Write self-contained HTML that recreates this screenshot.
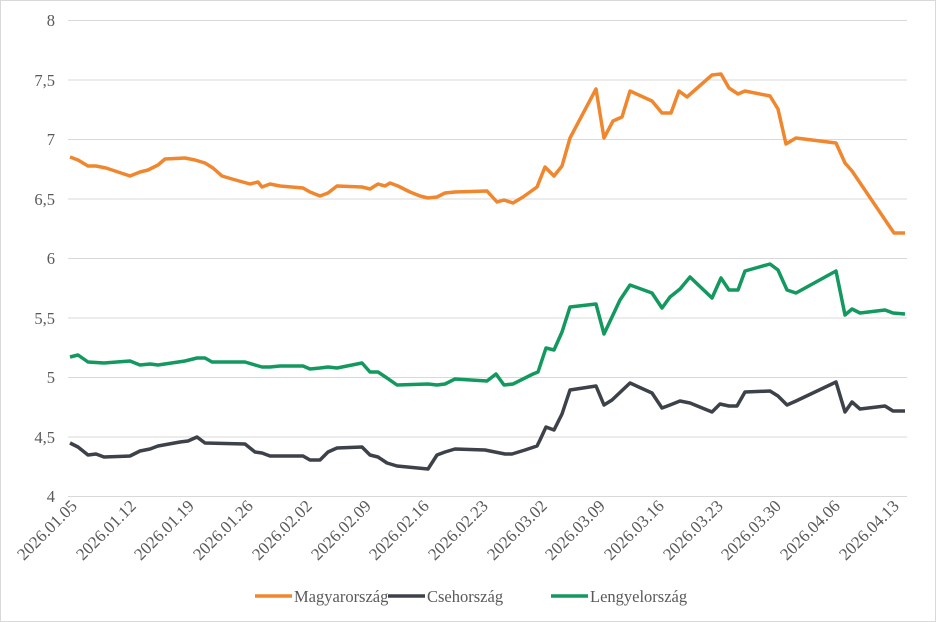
<!DOCTYPE html>
<html><head><meta charset="utf-8"><style>
html,body{margin:0;padding:0;background:#fff}
svg{display:block}
text{font-family:"Liberation Serif",serif;fill:#595959}
</style></head><body>
<svg width="936" height="622" viewBox="0 0 936 622" xmlns="http://www.w3.org/2000/svg">
<rect x="0.5" y="0.5" width="935" height="621" fill="#fff" stroke="#d9d9d9"/>
<g stroke="#d9d9d9" stroke-width="1">
<line x1="68" y1="20.5" x2="907" y2="20.5"/><line x1="68" y1="80" x2="907" y2="80"/>
<line x1="68" y1="139.5" x2="907" y2="139.5"/><line x1="68" y1="199" x2="907" y2="199"/>
<line x1="68" y1="258.5" x2="907" y2="258.5"/><line x1="68" y1="318" x2="907" y2="318"/>
<line x1="68" y1="377.5" x2="907" y2="377.5"/><line x1="68" y1="437" x2="907" y2="437"/>
<line x1="68" y1="496.5" x2="907" y2="496.5"/>
</g>
<g font-size="16.5" text-anchor="end">
<text x="55" y="26">8</text><text x="55" y="86">7,5</text><text x="55" y="145">7</text>
<text x="55" y="205">6,5</text><text x="55" y="264">6</text><text x="55" y="324">5,5</text>
<text x="55" y="383">5</text><text x="55" y="443">4,5</text><text x="55" y="502">4</text>
</g>
<g font-size="17" text-anchor="end">
<text transform="translate(78,507) rotate(-45)">2026.01.05</text>
<text transform="translate(137,507) rotate(-45)">2026.01.12</text>
<text transform="translate(195,507) rotate(-45)">2026.01.19</text>
<text transform="translate(254,507) rotate(-45)">2026.01.26</text>
<text transform="translate(313,507) rotate(-45)">2026.02.02</text>
<text transform="translate(372,507) rotate(-45)">2026.02.09</text>
<text transform="translate(430,507) rotate(-45)">2026.02.16</text>
<text transform="translate(489,507) rotate(-45)">2026.02.23</text>
<text transform="translate(548,507) rotate(-45)">2026.03.02</text>
<text transform="translate(606,507) rotate(-45)">2026.03.09</text>
<text transform="translate(665,507) rotate(-45)">2026.03.16</text>
<text transform="translate(724,507) rotate(-45)">2026.03.23</text>
<text transform="translate(782,507) rotate(-45)">2026.03.30</text>
<text transform="translate(841,507) rotate(-45)">2026.04.06</text>
<text transform="translate(900,507) rotate(-45)">2026.04.13</text>
</g>
<g fill="none" stroke-width="3.5" stroke-linejoin="round">
<polyline stroke="#f0872e" points="70,157 78,160 88,166 96,166 106,168 130,176 140,172 148,170 158,165 165,159 185,158 195,160 205,163 213,168 222,176 232,179 250,184 258,182 262,187 270,184 280,186 303,188 310,192 320,196 328,193 337,186 362,187 370,189 378,184 385,186 390,183 398,186 410,192 420,196 428,198 437,197 445,193 455,192 487,191 497,202 504,200 513,203 523,197 537,187 545,167 554,176 562,166 570,138 596,89 604,138 613,121 622,117 630,91 652,101 662,113 671,113 679,91 687,97 712,75 721,74 729,88 738,94 745,91 770,96 778,109 786,144 796,138 836,143 845,163 852,171 894,233 905,233"/>
<polyline stroke="#3d4149" points="70,443 78,447 88,455 96,454 104,457 130,456 140,451 150,449 158,446 180,442 188,441 197,437 205,443 245,444 255,452 262,453 270,456 303,456 310,460 320,460 328,452 337,448 362,447 370,455 378,457 387,463 397,466 428,469 437,455 445,452 455,449 485,450 495,452 505,454 512,454 525,450 537,446 540,440 546,427 554,430 562,414 570,390 596,386 604,405 612,400 630,383 652,393 662,408 670,405 680,401 690,403 712,412 720,404 729,406 737,406 745,392 770,391 778,396 787,405 796,401 836,382 845,412 852,402 860,409 885,406 893,411 905,411"/>
<polyline stroke="#13995f" points="70,357 78,355 88,362 104,363 130,361 140,365 150,364 158,365 185,361 197,358 205,358 212,362 245,362 255,365 262,367 270,367 280,366 303,366 310,369 320,368 328,367 337,368 362,363 370,372 378,372 387,378 397,385 428,384 437,385 445,384 455,379 487,381 496,374 504,385 513,384 533,374 538,372 546,348 554,350 562,332 570,307 596,304 604,334 620,300 630,285 652,293 662,308 670,297 680,289 690,277 712,298 721,278 729,290 738,290 745,271 770,264 778,270 787,290 796,293 836,271 845,315 852,309 860,313 885,310 893,313 905,314"/>
</g>
<g stroke-width="3.5">
<line x1="255" y1="596" x2="292" y2="596" stroke="#f0872e"/>
<line x1="388" y1="596" x2="425" y2="596" stroke="#3d4149"/>
<line x1="551" y1="596" x2="588" y2="596" stroke="#13995f"/>
</g>
<g font-size="16.5">
<text x="294" y="602">Magyarország</text>
<text x="427" y="602">Csehország</text>
<text x="590" y="602">Lengyelország</text>
</g>
</svg>
</body></html>
